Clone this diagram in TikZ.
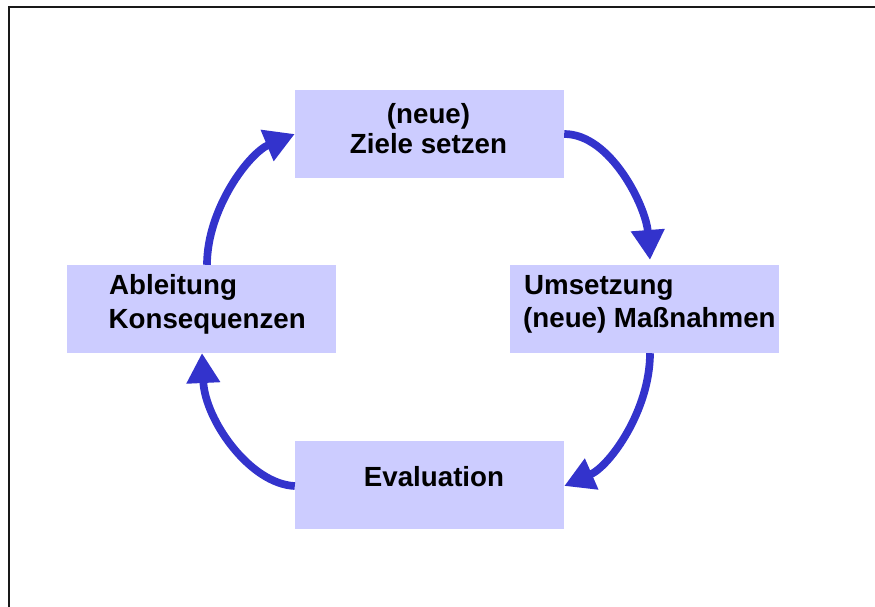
\documentclass[tikz,border=0pt]{standalone}
\usepackage{fontspec}
\setmainfont{Liberation Sans}
\usetikzlibrary{arrows.meta,calc}
\definecolor{boxfill}{HTML}{CCCCFF}
\definecolor{arrowblue}{HTML}{3333CC}
\tikzset{
  box/.style={draw=none,fill=boxfill,minimum width=269pt,minimum height=88pt,inner sep=0pt},
  txt/.style={inner sep=0pt,font=\fontsize{27.7}{33}\selectfont\bfseries},
  cyc/.style={draw=arrowblue,line width=7.7pt,-{Triangle[length=30pt,width=32pt]}},
  frameline/.style={draw=black!90,line width=2pt}
}
\begin{document}
\begin{tikzpicture}[x=1pt,y=-1pt]
\useasboundingbox (0,0) rectangle (875,607);
\draw[frameline] (9,620) -- (9,7.3) -- (890,7.3);
% boxes
\node[box] (ziele) at (429.5,134) {};
\node[box] (umsetzung) at (644.5,309) {};
\node[box] (ableitung) at (201.5,309) {};
\node[box] (evaluation) at (429.5,485) {};
% texts
\node[txt,anchor=base] (zA) at (428.5,123.3) {(neue)};
\node[txt,anchor=base] (zB) at (428.5,153.3) {Ziele setzen};
\node[txt,anchor=base west] (uA) at (524,294) {Umsetzung};
\node[txt,anchor=base west] (uB) at (523,327.7) {(neue) Maßnahmen};
\node[txt,anchor=base west] (aA) at (109,294.3) {Ableitung};
\node[txt,anchor=base west] (aB) at (108.5,328.3) {Konsequenzen};
\node[txt,anchor=base] (eA) at (434,486) {Evaluation};
% cycle arrows
\coordinate (a1e) at (650,260);
\coordinate (a3e) at (202,353);
\draw[cyc] (ziele.east) .. controls (611,134) and (646,207) .. (a1e);
\draw[cyc] ([xshift=5.5pt]umsetzung.south) .. controls (650,410) and (610,466) .. ([yshift=-1pt]evaluation.east);
\draw[cyc] ([yshift=-1pt]evaluation.west) .. controls (250,484) and (205,420) .. (a3e);
\draw[cyc] ([xshift=5.5pt]ableitung.north) .. controls (207,209) and (249,153) .. (ziele.west);
\end{tikzpicture}
\end{document}
